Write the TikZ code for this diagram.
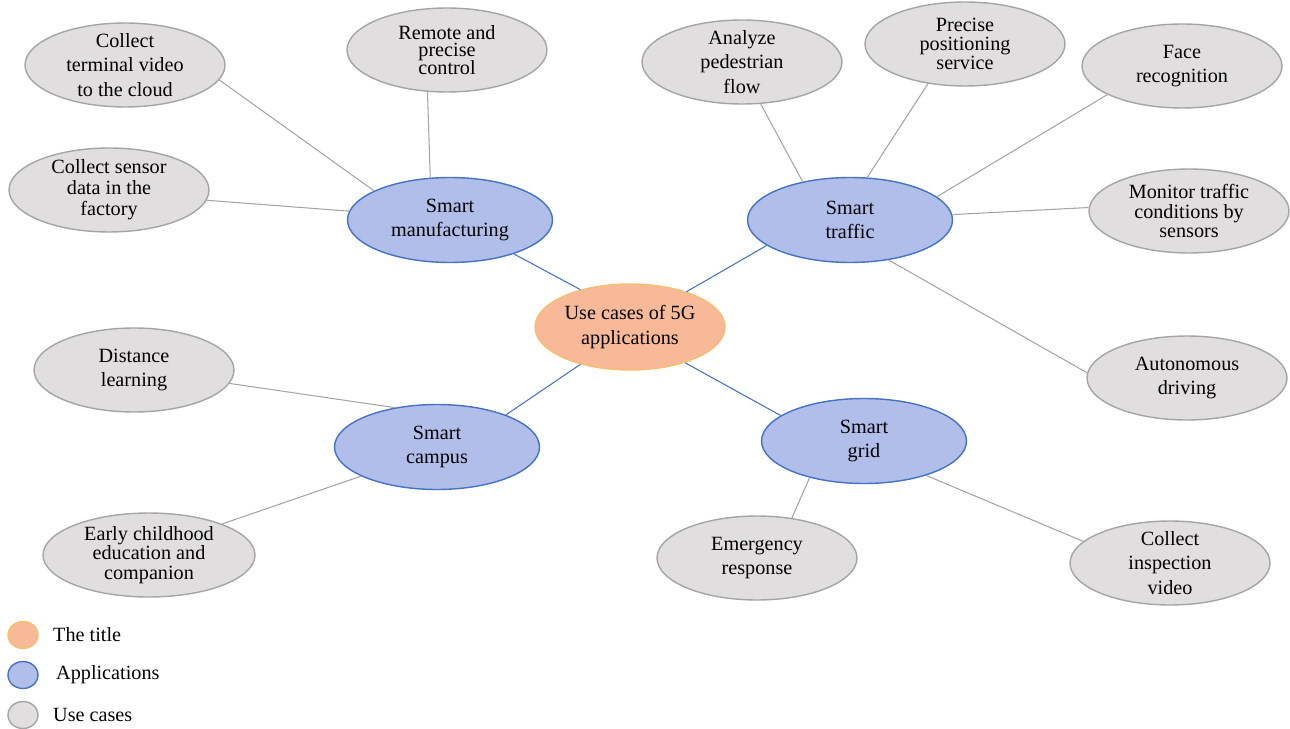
\documentclass[tikz,border=0pt]{standalone}
\usepackage{fontspec}
\setmainfont{Liberation Serif}
\usetikzlibrary{shapes.geometric}
\definecolor{titlefill}{HTML}{F8B998}
\definecolor{titleline}{HTML}{F6BE6E}
\definecolor{appfill}{HTML}{B1BEEA}
\definecolor{appline}{HTML}{4472C4}
\definecolor{casefill}{HTML}{E0DEDF}
\definecolor{caseline}{HTML}{A5A5A5}

\begin{document}
\begin{tikzpicture}[x=0.02cm,y=-0.02cm,
  font=\fontsize{11.5}{14}\selectfont,
  bubble/.style={ellipse,align=center,inner xsep=-12pt,inner ysep=-10pt,line width=0.8pt},
  titlenode/.style={bubble,draw=titleline,fill=titlefill,minimum width=3.8cm,minimum height=1.72cm},
  appnode/.style={bubble,draw=appline,fill=appfill,minimum width=4.1cm,minimum height=1.7cm},
  casenode/.style={bubble,draw=caseline,fill=casefill,minimum width=4cm,minimum height=1.68cm},
  applink/.style={draw=appline,line width=0.6pt},
  caselink/.style={draw=caseline,line width=0.6pt},
  keydot/.style={ellipse,inner sep=0pt,line width=0.8pt,minimum width=0.6cm,minimum height=0.54cm}]
\useasboundingbox (0,0) rectangle (1290,729);

% Title and the four applications
\node[titlenode] (uc) at (630,327) {Use cases of 5G\\applications};
\node[appnode] (mf) at (450,220) {Smart\\manufacturing};
\node[appnode] (tr) at (850,220) {Smart\\traffic};
\node[appnode] (cp) at (437,447) {Smart\\campus};
\node[appnode] (gd) at (864,441) {Smart\\grid};

% Use cases
\node[casenode] (cv) at (125,65) {Collect\\terminal video\\to the cloud};
\node[casenode] (rc) at (447,50) {Remote and\\[-4pt]precise\\[-4pt]control};
\node[casenode] (cs) at (109,190) {Collect sensor\\[-2pt]data in the\\[-2pt]factory};
\node[casenode] (ap) at (742,62) {Analyze\\pedestrian\\flow};
\node[casenode] (pp) at (965,44) {Precise\\[-3pt]positioning\\[-3pt]service};
\node[casenode] (fr) at (1182,66) {Face\\recognition};
\node[casenode] (mt) at (1189,211) {Monitor traffic\\[-3pt]conditions by\\[-3pt]sensors};
\node[casenode] (ad) at (1187,378) {Autonomous\\driving};
\node[casenode] (dl) at (134,370) {Distance\\learning};
\node[casenode, minimum width=4.24cm] (ec) at (149,555) {Early childhood\\[-3pt]education and\\[-3pt]companion};
\node[casenode] (em) at (757,558) {Emergency\\response};
\node[casenode] (ci) at (1170,563) {Collect\\inspection\\video};

% Links from the title to the applications
\draw[applink] (mf.-28) -- (uc.143);
\draw[applink] (tr.197) -- (uc.32);
\draw[applink] (cp.25) -- (uc.-143);
\draw[applink] (gd.163) -- (uc.-33);

% Links from the applications to their use cases
\foreach \a/\b in {cv.-9/mf.159, rc.-115/mf.115, cs.-6/mf.175,
  ap.-66/tr.141, pp.-133/tr.68, fr.-159/tr.15, mt.178/tr.3, ad.177/tr.-46,
  dl.-8/cp.137, ec.23/cp.-159, em.49/gd.-146, ci.166/gd.-29}
  \draw[caselink] (\a) -- (\b);

% Legend
\node[keydot,draw=titleline,fill=titlefill] (keytitle) at (23,635) {};
\node[keydot,draw=appline,fill=appfill] (keyapp) at (23,675) {};
\node[keydot,draw=caseline,fill=casefill] (keycase) at (23,715) {};
\node[anchor=west] (keytitletext) at (47,635) {The title};
\node[anchor=west] (keyapptext) at (50,675) {Applications};
\node[anchor=west] (keycasetext) at (47,715) {Use cases};
\end{tikzpicture}
\end{document}
